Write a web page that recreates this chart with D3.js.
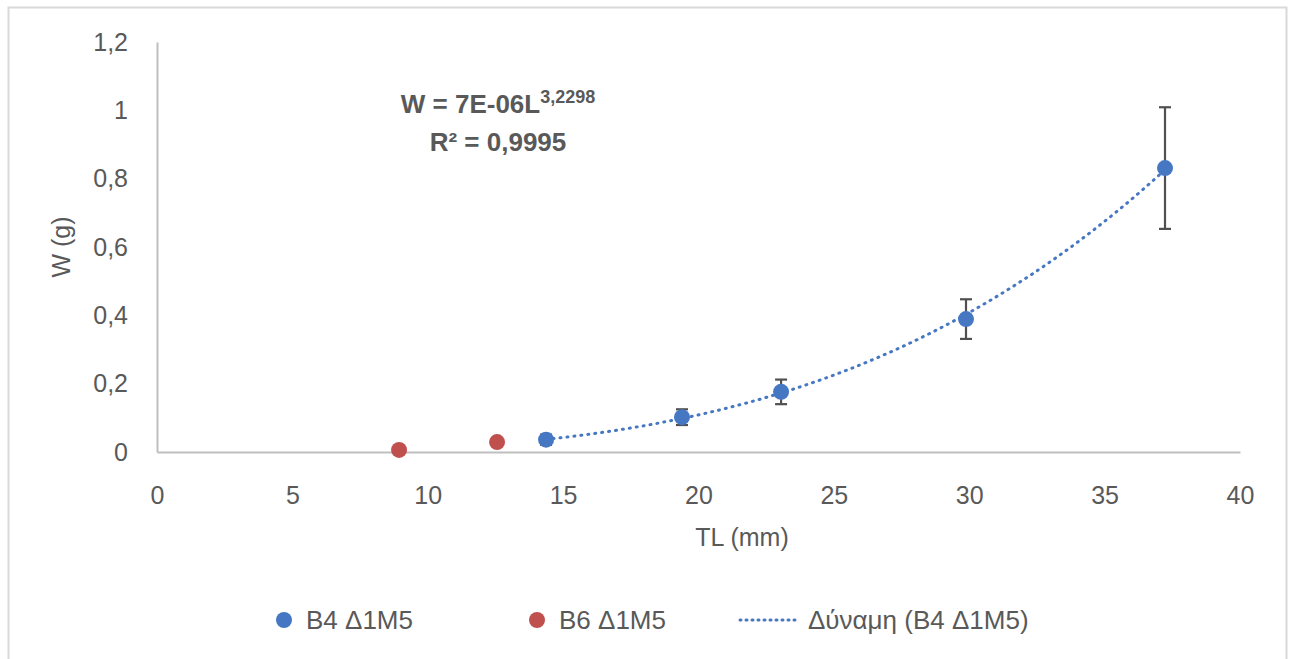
<!DOCTYPE html>
<html>
<head>
<meta charset="utf-8">
<script src="https://cdn.jsdelivr.net/npm/d3@7"></script>
<style>
  body { margin: 0; background: #fff; }
  svg text { font-family: "Liberation Sans", "Noto Sans", sans-serif; fill: #595959; }
</style>
</head>
<body>
<svg width="1293" height="659"></svg>
<script>
// B4 Δ1M5 (with std error bars)
var b4TL  = [14.37, 19.39, 23.05, 29.88, 37.23];
var b4W   = [0.036, 0.102, 0.176, 0.389, 0.831];
var b4Err = [0.015, 0.023, 0.036, 0.058, 0.178];
// B6 Δ1M5
var b6TL = [8.94, 12.56];
var b6W  = [0.006, 0.029];

var xTicks = [0, 5, 10, 15, 20, 25, 30, 35, 40];
var yTicks = [0, 0.2, 0.4, 0.6, 0.8, 1, 1.2];

var blue = "#4677c3", red = "#c0504d";
var fs = 25;

var svg = d3.select("svg");

// outer chart border
svg.append("rect")
  .attr("x", 8.5).attr("y", 7.5)
  .attr("width", 1278).attr("height", 660)
  .attr("fill", "none").attr("stroke", "#d9d9d9").attr("stroke-width", 2);

var x = d3.scaleLinear().domain([0, 40]).range([157, 1240]);
var y = d3.scaleLinear().domain([0, 1.2]).range([452, 42]);

var fmt = d => String(d).replace(".", ",");

// axes
var gx = svg.append("g")
  .attr("transform", "translate(0,452)")
  .call(d3.axisBottom(x).tickValues(xTicks).tickSize(0).tickPadding(34).tickFormat(d3.format("d")));
gx.select(".domain").attr("stroke", "#bfbfbf").attr("stroke-width", 2);
gx.selectAll("text").attr("font-size", fs).style("fill", "#595959");

var gy = svg.append("g")
  .attr("transform", "translate(157,0)")
  .call(d3.axisLeft(y).tickValues(yTicks).tickSize(0).tickPadding(29).tickFormat(fmt));
gy.select(".domain").attr("stroke", "#bfbfbf").attr("stroke-width", 2);
gy.selectAll("text").attr("font-size", fs).style("fill", "#595959");

// axis titles
svg.append("text")
  .attr("x", 742).attr("y", 546)
  .attr("text-anchor", "middle").attr("font-size", fs)
  .text("TL (mm)");
svg.append("text")
  .attr("transform", "translate(70,247) rotate(-90)")
  .attr("text-anchor", "middle").attr("font-size", fs)
  .text("W (g)");

// power trendline fitted on B4 in log-log space
var lx = b4TL.map(Math.log), ly = b4W.map(Math.log);
var mx = d3.mean(lx), my = d3.mean(ly);
var bExp = d3.sum(lx, (v, i) => (v - mx) * (ly[i] - my)) / d3.sum(lx, v => (v - mx) * (v - mx));
var aCoef = Math.exp(my - bExp * mx);
var trend = d3.range(0, 101).map(i => {
  var t = b4TL[0] + (b4TL[b4TL.length - 1] - b4TL[0]) * i / 100;
  return [t, aCoef * Math.pow(t, bExp)];
});
svg.append("path")
  .datum(trend)
  .attr("fill", "none")
  .attr("stroke", blue)
  .attr("stroke-width", 3)
  .attr("stroke-linecap", "round")
  .attr("stroke-dasharray", "1,6")
  .attr("d", d3.line().x(d => x(d[0])).y(d => y(d[1])));

// error bars
var eb = svg.append("g").attr("stroke", "#505050").attr("stroke-width", 2.2);
b4TL.forEach((t, i) => {
  var cx = x(t), top = y(b4W[i] + b4Err[i]), bot = y(b4W[i] - b4Err[i]);
  eb.append("line").attr("x1", cx).attr("x2", cx).attr("y1", top).attr("y2", bot);
  eb.append("line").attr("x1", cx - 6).attr("x2", cx + 6).attr("y1", top).attr("y2", top);
  eb.append("line").attr("x1", cx - 6).attr("x2", cx + 6).attr("y1", bot).attr("y2", bot);
});

// points
svg.append("g").selectAll("circle")
  .data(b4TL.map((t, i) => [t, b4W[i]]))
  .enter().append("circle")
    .attr("cx", d => x(d[0])).attr("cy", d => y(d[1]))
    .attr("r", 8).attr("fill", blue);
svg.append("g").selectAll("circle")
  .data(b6TL.map((t, i) => [t, b6W[i]]))
  .enter().append("circle")
    .attr("cx", d => x(d[0])).attr("cy", d => y(d[1]))
    .attr("r", 8).attr("fill", red);

// equation label
var eq = svg.append("text")
  .attr("x", 498).attr("y", 113)
  .attr("text-anchor", "middle")
  .attr("font-size", 26).attr("font-weight", "bold");
eq.append("tspan").text("W = 7E-06L");
eq.append("tspan").attr("dy", -10).attr("font-size", 18).text("3,2298");
svg.append("text")
  .attr("x", 498).attr("y", 151)
  .attr("text-anchor", "middle")
  .attr("font-size", 26).attr("font-weight", "bold")
  .text("R² = 0,9995");

// legend
var lg = svg.append("g");
lg.append("circle").attr("cx", 284).attr("cy", 620).attr("r", 8).attr("fill", blue);
lg.append("text").attr("x", 306).attr("y", 629).attr("font-size", 26).text("B4 Δ1M5");
lg.append("circle").attr("cx", 537).attr("cy", 620).attr("r", 8).attr("fill", red);
lg.append("text").attr("x", 559).attr("y", 629).attr("font-size", 26).text("B6 Δ1M5");
lg.append("line")
  .attr("x1", 740).attr("x2", 800).attr("y1", 620).attr("y2", 620)
  .attr("stroke", blue).attr("stroke-width", 3)
  .attr("stroke-linecap", "round").attr("stroke-dasharray", "1,5");
lg.append("text").attr("x", 808).attr("y", 629).attr("font-size", 26).text("Δύναμη (B4 Δ1M5)");
</script>
</body>
</html>
